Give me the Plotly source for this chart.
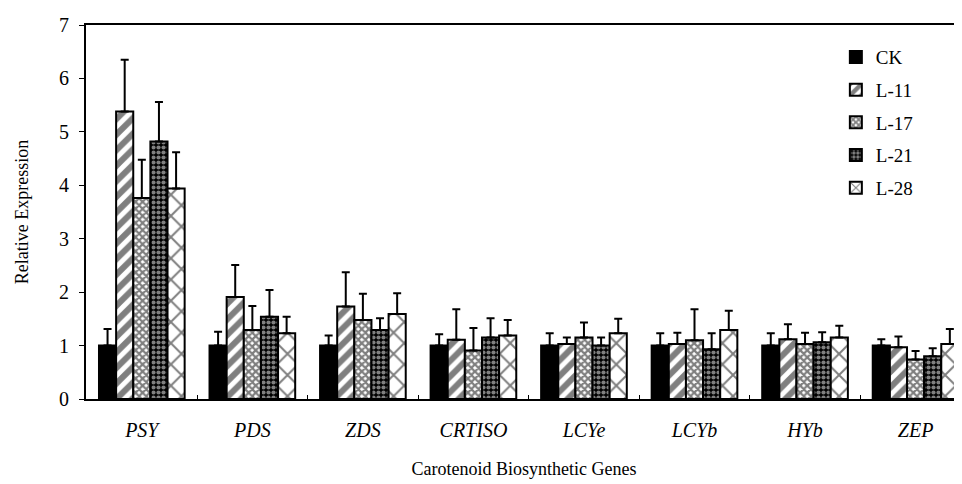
import plotly.graph_objects as go

genes = ["PSY", "PDS", "ZDS", "CRTISO", "LCYe", "LCYb", "HYb", "ZEP"]
series_names = ["CK", "L-11", "L-17", "L-21", "L-28"]

ck = [1.0, 1.0, 1.0, 1.0, 1.0, 1.0, 1.0, 1.0]
l11 = [5.38, 1.91, 1.73, 1.11, 1.03, 1.03, 1.12, 0.97]
l17 = [3.76, 1.29, 1.48, 0.91, 1.15, 1.10, 1.03, 0.74]
l21 = [4.82, 1.54, 1.29, 1.15, 1.00, 0.93, 1.06, 0.80]
l28 = [3.94, 1.23, 1.59, 1.19, 1.23, 1.29, 1.15, 1.03]

ck_err = [0.31, 0.26, 0.19, 0.21, 0.23, 0.23, 0.23, 0.12]
l11_err = [0.97, 0.60, 0.64, 0.57, 0.12, 0.21, 0.28, 0.20]
l17_err = [0.72, 0.45, 0.49, 0.42, 0.28, 0.58, 0.21, 0.16]
l21_err = [0.74, 0.50, 0.22, 0.36, 0.15, 0.30, 0.19, 0.15]
l28_err = [0.68, 0.31, 0.39, 0.29, 0.27, 0.36, 0.22, 0.28]

values = [ck, l11, l17, l21, l28]
errors = [ck_err, l11_err, l17_err, l21_err, l28_err]

patterns = [
    dict(shape="", fgcolor="black", bgcolor="black"),
    dict(shape="/", size=11, solidity=0.55, fgcolor="black", bgcolor="white"),
    dict(shape="x", size=5, solidity=0.7, fgcolor="black", bgcolor="white"),
    dict(shape=".", size=5, solidity=0.55, fgcolor="white", bgcolor="black"),
    dict(shape="x", size=15, solidity=0.25, fgcolor="black", bgcolor="white"),
]
colors = ["black", "white", "white", "black", "white"]

FONT = "Liberation Serif"

fig = go.Figure()
for i, (name, vals, errs) in enumerate(zip(series_names, values, errors)):
    fig.add_trace(go.Bar(
        x=genes, y=vals, name=name, legendgroup=name,
        marker=dict(color=colors[i], pattern=patterns[i],
                    line=dict(color="black", width=2)),
        error_y=dict(type="data", array=errs, arrayminus=[0] * len(errs),
                     symmetric=False, color="black", thickness=2, width=4),
    ))

# page body has an 8px default margin, so the figure is shrunk by 8px
fig.update_layout(
    width=954, height=476,
    margin=dict(l=78, r=0, t=17, b=85),
    paper_bgcolor="white", plot_bgcolor="white",
    barmode="group", bargap=0.225, bargroupgap=0,
    font=dict(family=FONT, color="black", size=17),
    showlegend=True,
    legend=dict(x=0.856, y=0.965, xanchor="left", yanchor="top",
                font=dict(family=FONT, size=19, color="black"),
                bgcolor="rgba(0,0,0,0)", traceorder="grouped",
                tracegroupgap=5, itemwidth=30),
)
fig.update_xaxes(
    range=[-0.505, 7.42], showline=True, linecolor="black", linewidth=2,
    mirror=True, ticks="inside", tickson="boundaries", ticklen=4,
    tickcolor="black", showgrid=False, automargin=False,
    ticklabelstandoff=12,
    tickfont=dict(family=FONT, size=20, style="italic"),
    title=dict(text="Carotenoid Biosynthetic Genes", font=dict(family=FONT, size=18),
               standoff=22),
)
fig.update_yaxes(
    range=[0, 7], dtick=1, showline=True, linecolor="black", linewidth=2,
    ticks="outside", ticklen=5, tickcolor="black", showgrid=False, zeroline=False,
    automargin=False, ticklabelstandoff=6,
    tickfont=dict(family=FONT, size=20),
    title=dict(text="Relative Expression", font=dict(family=FONT, size=18), standoff=26),
)

fig.write_html("out.html")
